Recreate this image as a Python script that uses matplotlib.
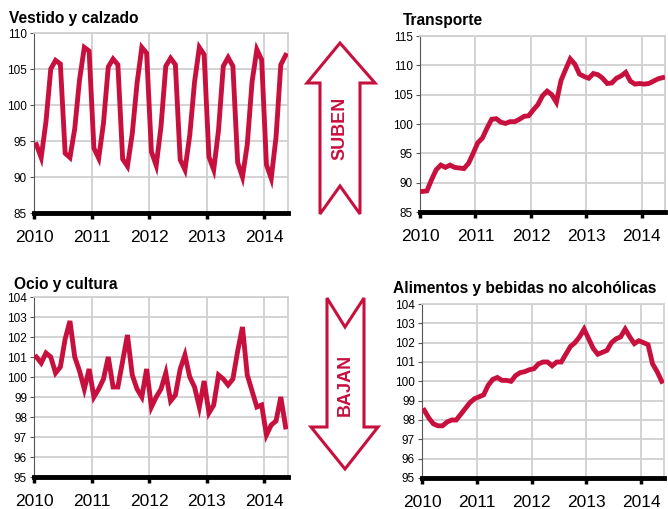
import matplotlib
matplotlib.use("Agg")
import matplotlib.pyplot as plt
from matplotlib.patches import Polygon
import numpy as np

plt.rcParams['font.family'] = ['Liberation Sans', 'DejaVu Sans']

years = ["2010", "2011", "2012", "2013", "2014"]

vestido = [94.5, 92.7, 97.7, 105.0, 106.2, 105.7, 93.3, 92.7, 96.7, 103.5, 108.0, 107.5,
           94.0, 92.6, 97.5, 105.3, 106.4, 105.6, 92.5, 91.5, 96.0, 103.0, 108.0, 107.2,
           93.5, 91.6, 97.0, 105.4, 106.5, 105.6, 92.4, 91.0, 95.8, 103.2, 108.0, 107.0,
           92.8, 91.0, 96.5, 105.4, 106.6, 105.4, 92.0, 90.0, 94.5, 103.2, 107.7, 106.3,
           91.7, 89.8, 95.5, 105.6, 106.9]

transporte = [88.5, 88.6, 90.5, 92.2, 93.0, 92.6, 93.0, 92.6, 92.5, 92.4, 93.3, 95.0,
              96.8, 97.6, 99.3, 100.8, 100.9, 100.3, 100.1, 100.4, 100.4, 100.8, 101.3, 101.4,
              102.4, 103.3, 104.8, 105.6, 105.0, 103.7, 107.4, 109.3, 111.1, 110.2, 108.5, 108.1,
              107.8, 108.6, 108.4, 107.8, 106.9, 107.0, 107.8, 108.2, 108.8, 107.3, 106.8, 106.9,
              106.8, 106.9, 107.3, 107.7, 107.9]

ocio = [101.0, 100.7, 101.2, 101.0, 100.2, 100.5, 101.9, 102.8, 101.0, 100.3, 99.4, 100.4,
        99.0, 99.4, 99.9, 101.0, 99.5, 99.5, 100.8, 102.1, 100.1, 99.4, 99.0, 100.4,
        98.5, 99.0, 99.4, 100.2, 98.8, 99.1, 100.4, 101.1, 100.0, 99.5, 98.5, 99.8,
        98.2, 98.6, 100.1, 99.9, 99.6, 99.9, 101.3, 102.5, 100.1, 99.3, 98.5, 98.6,
        97.1, 97.6, 97.8, 99.0, 97.5]

alimentos = [98.5, 98.1, 97.8, 97.7, 97.7, 97.9, 98.0, 98.0, 98.3, 98.6, 98.9, 99.1,
             99.2, 99.3, 99.8, 100.1, 100.2, 100.05, 100.05, 100.0, 100.3, 100.45, 100.5, 100.6,
             100.65, 100.9, 101.0, 101.0, 100.8, 101.0, 101.0, 101.4, 101.8, 102.0, 102.3, 102.7,
             102.2, 101.7, 101.4, 101.5, 101.6, 102.0, 102.2, 102.3, 102.7, 102.3, 101.95, 102.1,
             102.0, 101.9, 100.9, 100.5, 100.0]

RED = '#C8103E'
W, H = 668, 509
fig = plt.figure(figsize=(W / 100, H / 100), dpi=100)


def px_axes(left, top, right, bottom):
    return fig.add_axes([left / W, 1 - bottom / H, (right - left) / W, (bottom - top) / H])


def panel(box, data, ylo, yhi, ystep, title, tx, ty):
    ax = px_axes(*box)
    x = np.arange(len(data)) + 0.5
    ax.plot(x, data, color=RED, lw=3.5, solid_joinstyle='miter', zorder=3)
    ax.set_xlim(0, len(data))
    ax.set_ylim(ylo, yhi)
    ax.set_yticks(np.arange(ylo, yhi + 0.01, ystep))
    ax.set_xticks([0, 12, 24, 36, 48])
    ax.set_xticklabels(years)
    ax.grid(True, color='#D0D0D0', lw=1.3, zorder=0)
    ax.tick_params(axis='y', labelsize=8.5, length=3, width=0.8, color='#555555', pad=2)
    ax.tick_params(axis='x', labelsize=12.5, length=4, width=2.5, color='black', pad=8)
    for s in ['top', 'right']:
        ax.spines[s].set_color('#D0D0D0')
        ax.spines[s].set_linewidth(1.3)
    ax.spines['left'].set_color('#555555')
    ax.spines['left'].set_linewidth(0.8)
    ax.spines['bottom'].set_color('black')
    ax.spines['bottom'].set_linewidth(3.5)
    fig.text(tx / W, 1 - ty / H, title, fontsize=11.2, fontweight='bold', ha='left', va='center')
    return ax


panel((34, 33, 288, 213), vestido, 85, 110, 5, "Vestido y calzado", 9, 18)
panel((420, 36, 665, 212), transporte, 85, 115, 5, "Transporte", 403, 20)
panel((34, 297, 288, 477), ocio, 95, 104, 1, "Ocio y cultura", 14, 284)
panel((422, 304, 664, 478), alimentos, 95, 104, 1, "Alimentos y bebidas no alcohólicas", 393, 288)

# Arrows overlay
ov = fig.add_axes([0, 0, 1, 1], zorder=5)
ov.set_xlim(0, W)
ov.set_ylim(H, 0)
ov.axis('off')
ov.patch.set_alpha(0)

up = [(340, 43), (375, 83), (360, 83), (360, 214), (340, 186), (320, 214), (320, 83), (307, 83)]
ov.add_patch(Polygon(up, closed=True, facecolor='white', edgecolor=RED, lw=2.2, joinstyle='miter'))
ov.text(340, 128, "SUBEN", rotation=90, color=RED, fontsize=13, fontweight='bold',
        ha='center', va='center')

down = [(327, 298), (345, 327), (364, 298), (364, 427), (378, 427), (345, 469), (311, 427), (327, 427)]
ov.add_patch(Polygon(down, closed=True, facecolor='white', edgecolor=RED, lw=2.2, joinstyle='miter'))
ov.text(345, 385, "BAJAN", rotation=90, color=RED, fontsize=13, fontweight='bold',
        ha='center', va='center')

fig.savefig("out.png", dpi=100)
